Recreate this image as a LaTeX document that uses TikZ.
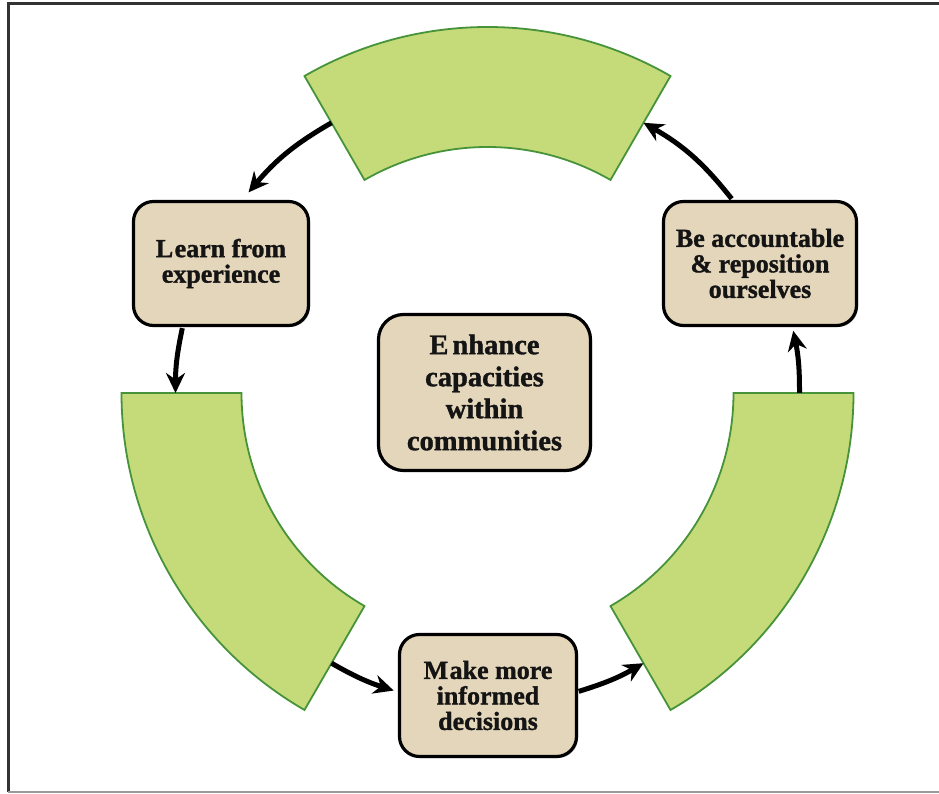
\documentclass[tikz,border=0pt]{standalone}
\usepackage{fontspec}
\setmainfont{Liberation Serif}[FakeBold=1.2]
\usetikzlibrary{arrows.meta,shadows}
\definecolor{sectorfill}{HTML}{C5DB79}
\definecolor{sectorline}{HTML}{46933A}
\definecolor{boxfill}{HTML}{E4D6BA}
\definecolor{inkcol}{HTML}{141414}
\tikzset{
  sector/.style={fill=sectorfill, draw=sectorline, line width=1.8pt, line join=miter},
  stepbox/.style={draw=black, line width=3.2pt, fill=boxfill, rounded corners=20pt,
    align=center, inner sep=0pt, text=inkcol,
    font=\bfseries\fontsize{26}{25.5}\selectfont,
    drop shadow={shadow xshift=1.5pt, shadow yshift=-1.5pt, fill=black, opacity=0.3}},
  flow/.style={line width=5pt, draw=black, -{Stealth[length=20pt,width=19pt]}},
  framel/.style={line width=3pt, draw=black!80},
  frameb/.style={line width=1.5pt, draw=black!40}
}
\begin{document}
\begin{tikzpicture}[x=1pt,y=1pt]
\useasboundingbox (0,0) rectangle (939,793);
% frame
\draw[framel] (8,1) -- (8,789) -- (939,789);
\draw[frameb] (8,1) -- (939,1);
% ring sectors and arrow end points
\begin{scope}[shift={(487.5,400)}]
  \path[sector] (60:366pt) arc[start angle=60, end angle=120, radius=366pt]
     -- (120:246pt) arc[start angle=120, end angle=60, radius=246pt] -- cycle;
  \path[sector] (180:366pt) arc[start angle=180, end angle=240, radius=366pt]
     -- (240:246pt) arc[start angle=240, end angle=180, radius=246pt] -- cycle;
  \path[sector] (300:366pt) arc[start angle=300, end angle=360, radius=366pt]
     -- (360:246pt) arc[start angle=360, end angle=300, radius=246pt] -- cycle;
  \coordinate (a1s) at (120:312pt);
  \coordinate (a1e) at (140:312pt);
  \coordinate (a2s) at (168:312pt);
  \coordinate (a2e) at (180:312pt);
  \coordinate (a3s) at (240:312pt);
  \coordinate (a3e) at (252.5:312pt);
  \coordinate (a4s) at (287:312pt);
  \coordinate (a4e) at (300:312pt);
  \coordinate (a5s) at (0:312pt);
  \coordinate (a5e) at (11.5:312pt);
  \coordinate (a6s) at (38.5:312pt);
  \coordinate (a6e) at (60:312pt);
\end{scope}
% boxes
\node[stepbox, minimum width=175pt, minimum height=124pt] (learn) at (221,529.5)
  {L\kern1.5pt earn from\\experience};
\node[stepbox, minimum width=193pt, minimum height=124pt] (acc) at (760,529.5)
  {Be accountable\\\& reposition\\ourselves};
\node[stepbox, minimum width=177pt, minimum height=122pt] (make) at (488,97.5)
  {M\kern1.5pt ake more\\informed\\decisions};
\node[stepbox, minimum width=212pt, minimum height=156pt, rounded corners=25pt,
  font=\bfseries\fontsize{28.5}{32}\selectfont] (enh) at (484.5,400.5)
  {E\kern4pt nhance\\capacities\\within\\communities};
% arrows
\draw[flow] (a1s) to[bend right=10] (a1e);
\draw[flow] (a2s) to[bend right=6] (a2e);
\draw[flow] (a3s) to[bend right=6] (a3e);
\draw[flow] (a4s) to[bend right=6.5] (a4e);
\draw[flow] (a5s) to[bend right=6] (a5e);
\draw[flow] (a6s) to[bend right=11] (a6e);
\end{tikzpicture}
\end{document}
